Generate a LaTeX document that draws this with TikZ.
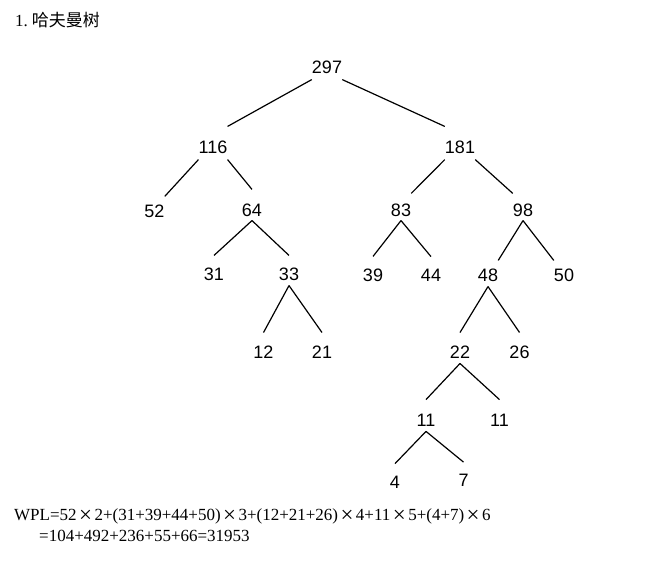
\documentclass[tikz,border=0pt]{standalone}
\usepackage{fontspec}
\setmainfont{Liberation Sans}
\newfontfamily\wplfont{Liberation Serif}
\newfontfamily\cjk{Noto Sans CJK SC}
\usepackage{tikz}
\usetikzlibrary{positioning}

\newcommand{\mlt}{\makebox[1.05em]{\raisebox{-0.12em}{\scalebox{1.35}{×}}}}

\begin{document}
\begin{tikzpicture}[
  x=1pt, y=-1pt,
  numnode/.style={font=\fontsize{18}{18}\selectfont, inner sep=0pt},
  textline/.style={font=\wplfont\fontsize{17}{20}\selectfont, inner sep=0pt, anchor=base west},
  link/.style={line width=1.2pt}
]
  \useasboundingbox (0,0) rectangle (664,562);
  \node[anchor=base west, inner sep=0pt, font=\fontsize{17}{19}\selectfont] (title) at (15,27) {\wplfont 1.\kern4pt\cjk 哈夫曼树};

  \node[numnode] (n297) at (327,67) {297};
  \node[numnode] (n116) at (213,147) {116};
  \node[numnode] (n181) at (460,147) {181};
  \node[numnode] (n52) at (154.5,211) {52};
  \node[numnode] (n64) at (252,210) {64};
  \node[numnode] (n83) at (401,210) {83};
  \node[numnode] (n98) at (523,210) {98};
  \node[numnode] (n31) at (214,274) {31};
  \node[numnode] (n33) at (289,274) {33};
  \node[numnode] (n39) at (373,275) {39};
  \node[numnode] (n44) at (431,275) {44};
  \node[numnode] (n48) at (488,275) {48};
  \node[numnode] (n50) at (564,275) {50};
  \node[numnode] (n12) at (263.5,352) {12};
  \node[numnode] (n21) at (322,352) {21};
  \node[numnode] (n22) at (460,352) {22};
  \node[numnode] (n26) at (519.5,352) {26};
  \node[numnode] (n11a) at (426,420) {11};
  \node[numnode] (n11b) at (499.5,420) {11};
  \node[numnode] (n4) at (395,482) {4};
  \node[numnode] (n7) at (463.5,480.5) {7};

  \draw[link] ([yshift=-6pt]n297.south west) -- ([yshift=14pt]n116.north east);
  \draw[link] ([yshift=-6pt]n297.south east) -- ([yshift=14pt]n181.north west);
  \draw[link] ([yshift=-6pt]n116.south west) -- ([yshift=8pt]n52.north east);
  \draw[link] ([yshift=-6pt]n116.south east) -- ([yshift=14pt]n64.north);
  \draw[link] ([yshift=-6pt]n181.south west) -- ([yshift=10pt]n83.north east);
  \draw[link] ([yshift=-6pt]n181.south east) -- ([yshift=10pt]n98.north west);
  \draw[link] ([yshift=-4pt]n64.south) -- ([yshift=12pt]n31.north);
  \draw[link] ([yshift=-4pt]n64.south) -- ([yshift=12pt]n33.north);
  \draw[link] ([yshift=-4pt]n83.south) -- ([yshift=12pt]n39.north);
  \draw[link] ([yshift=-4pt]n83.south) -- ([yshift=12pt]n44.north);
  \draw[link] ([yshift=-4pt]n98.south) -- ([yshift=8pt]n48.north east);
  \draw[link] ([yshift=-4pt]n98.south) -- ([yshift=8pt]n50.north west);
  \draw[link] ([yshift=-5pt]n33.south) -- ([yshift=13pt]n12.north);
  \draw[link] ([yshift=-5pt]n33.south) -- ([yshift=13pt]n21.north);
  \draw[link] ([yshift=-5pt]n48.south) -- ([yshift=13pt]n22.north);
  \draw[link] ([yshift=-5pt]n48.south) -- ([yshift=13pt]n26.north);
  \draw[link] ([yshift=-5pt]n22.south) -- ([yshift=14pt]n11a.north);
  \draw[link] ([yshift=-5pt]n22.south) -- ([yshift=14pt]n11b.north);
  \draw[link] ([yshift=-5pt]n11a.south) -- ([yshift=12pt]n4.north);
  \draw[link] ([yshift=-5pt]n11a.south) -- ([yshift=12pt]n7.north);

  \node[textline] (wpl) at (14,520) {WPL=52\mlt2+(31+39+44+50)\mlt3+(12+21+26)\mlt4+11\mlt5+(4+7)\mlt6};
  \node[textline] (sum) at (39,541.5) {=104+492+236+55+66=31953};
\end{tikzpicture}
\end{document}
